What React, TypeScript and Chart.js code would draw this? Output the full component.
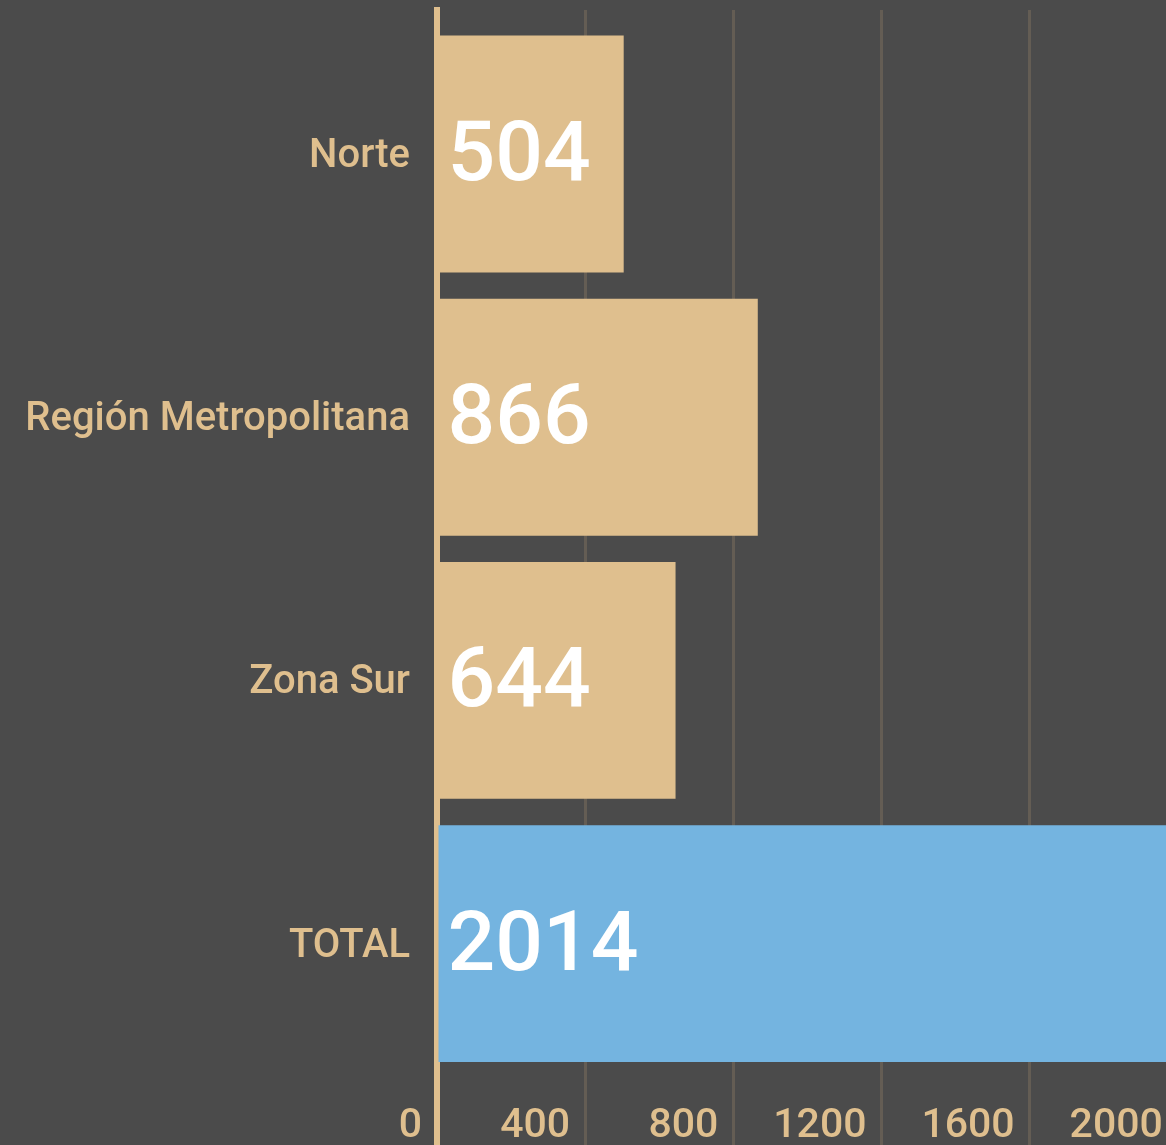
import React, { useEffect, useRef } from 'react';
import { Chart, registerables } from 'chart.js';

Chart.register(...registerables);

// ---- data ----
const categories = ['Norte', 'Región Metropolitana', 'Zona Sur', 'TOTAL'];
const values = [504, 866, 644, 2014];
const barColors = ['#dfbf8e', '#dfbf8e', '#dfbf8e', '#74b4e0'];
const xTickValues = [0, 400, 800, 1200, 1600, 2000, 2400];

const TAN = '#dfbf8e';
const BG = '#4b4b4b';
const GRID = '#645d54';

const valueLabelPlugin = {
  id: 'valueLabels',
  afterDatasetsDraw(chart: any) {
    const { ctx } = chart;
    const meta = chart.getDatasetMeta(0);
    ctx.save();
    ctx.font = '500 84px Roboto, "Noto Sans", sans-serif';
    ctx.fillStyle = '#ffffff';
    ctx.textAlign = 'left';
    ctx.textBaseline = 'alphabetic';
    meta.data.forEach((bar: any, i: number) => {
      const p = bar.getProps(['y', 'base'], true);
      ctx.fillText(String(values[i]), p.base + 9, p.y + 26);
    });
    ctx.restore();
  },
};

export default function App() {
  const canvasRef = useRef<HTMLCanvasElement | null>(null);

  useEffect(() => {
    const canvas = canvasRef.current;
    if (!canvas) return;
    const chart = new Chart(canvas, {
      type: 'bar',
      data: {
        datasets: [
          {
            data: values.map((v, i) => ({ x: v, y: i })),
            backgroundColor: barColors,
            borderWidth: 0,
            categoryPercentage: 0.9,
            barPercentage: 1,
          } as any,
        ],
      },
      options: {
        indexAxis: 'y',
        responsive: false,
        animation: false,
        events: [],
        layout: { padding: { top: 10, left: 0, right: 0, bottom: 0 } },
        plugins: {
          legend: { display: false },
          title: { display: false },
          tooltip: { enabled: false },
        },
        scales: {
          x: {
            type: 'linear',
            position: 'bottom',
            min: 0,
            max: 2400,
            offset: false,
            afterBuildTicks: (s: any) => {
              s.ticks = xTickValues.map((v) => ({ value: v }));
            },
            grid: { color: GRID, lineWidth: 3, drawTicks: false, offset: false },
            border: { display: false },
            ticks: {
              color: TAN,
              font: { family: 'Roboto, "Noto Sans", sans-serif', size: 41, weight: '500' },
              align: 'end',
              labelOffset: -15,
              mirror: true,
              padding: 10,
              maxRotation: 0,
              autoSkip: false,
              callback: (v: any) => String(v),
            },
          },
          y: {
            type: 'linear',
            reverse: true,
            offset: false,
            min: -0.5472,
            max: 3.826,
            z: 1,
            afterBuildTicks: (s: any) => {
              s.ticks = categories.map((_, i) => ({ value: i }));
            },
            afterFit: (s: any) => {
              s.width = 437;
              s.paddingTop = 0;
              s.paddingBottom = 0;
            },
            grid: { display: false, drawTicks: false, offset: false },
            border: { display: true, color: TAN, width: 6 },
            ticks: {
              color: TAN,
              font: { family: 'Roboto, "Noto Sans", sans-serif', size: 40, weight: '500' },
              padding: 27,
              labelOffset: 3,
              autoSkip: false,
              callback: (v: any) => categories[Number(v)] ?? '',
            },
          },
        },
      } as any,
      plugins: [valueLabelPlugin],
    });
    return () => chart.destroy();
  }, []);

  return (
    <div
      style={{
        position: 'fixed',
        left: 0,
        top: 0,
        width: 1166,
        height: 1145,
        overflow: 'hidden',
        background: BG,
      }}
    >
      <canvas
        ref={canvasRef}
        width={1336}
        height={1181}
        style={{ display: 'block', width: 1336, height: 1181, background: BG }}
      />
    </div>
  );
}
